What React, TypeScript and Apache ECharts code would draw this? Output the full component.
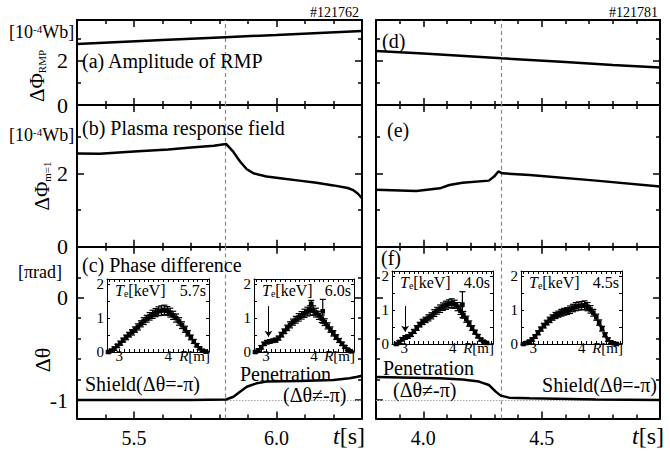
import React, { useEffect, useRef } from 'react';
import * as echarts from 'echarts';

const FONT = 'Liberation Serif';

// ---- axes ----
const LEFT_T = [5.3, 6.3];
const RIGHT_T = [3.8, 5.0];
const LEFT_T_MAJOR = [5.5, 6.0];
const LEFT_T_MINOR = [5.4, 5.6, 5.7, 5.8, 5.9, 6.1, 6.2];
const RIGHT_T_MAJOR = [4.0, 4.5];
const RIGHT_T_MINOR = [3.9, 4.1, 4.2, 4.3, 4.4, 4.6, 4.7, 4.8, 4.9];
const FLUX_RANGE = [0, 3.86];
const FLUX_LABELS = [0, 2];
const FLUX_MAJOR = [2];
const FLUX_MINOR = [1, 3];
const PHASE_RANGE = [-1.18, 0.5];
const PHASE_LABELS = [0, -1];
const PHASE_MAJOR = [0, -1];
const PHASE_MINOR = [0.2, -0.2, -0.4, -0.6, -0.8];
const LEFT_ONSET = 5.823;
const RIGHT_ONSET = 4.331;
const SHIELD_LEVEL = -1;

const INSET_R = [2.75, 4.83];
const INSET_TE = [0, 2.15];
const INSET_R_TICKS = [2.8, 2.9, 3.0, 3.1, 3.2, 3.3, 3.4, 3.5, 3.6, 3.7, 3.8, 3.9, 4.0, 4.1, 4.2, 4.3, 4.4, 4.5, 4.6, 4.7, 4.8];
const INSET_R_LABELS = [3, 4];
const INSET_TE_TICKS = [0.5, 1, 1.5, 2];
const INSET_TE_LABELS = [0, 1, 2];

// ---- time traces [t, value] ----
const rmpLeft = [[5.30, 2.77], [5.45, 2.86], [5.60, 2.95], [5.82, 3.08], [6.00, 3.18], [6.15, 3.27], [6.30, 3.36]];
const rmpRight = [[3.80, 2.45], [4.00, 2.34], [4.33, 2.12], [4.60, 1.95], [4.80, 1.82], [5.00, 1.70]];
const respLeft = [[5.30, 2.54], [5.38, 2.53], [5.50, 2.59], [5.62, 2.65], [5.70, 2.70], [5.78, 2.75], [5.823, 2.80], [5.848, 2.59], [5.872, 2.32], [5.896, 2.11], [5.919, 2.00], [5.965, 1.91], [6.02, 1.86], [6.08, 1.80], [6.14, 1.74], [6.20, 1.67], [6.25, 1.60], [6.267, 1.55], [6.285, 1.45], [6.30, 1.32]];
const respRight = [[3.80, 1.55], [3.97, 1.52], [4.07, 1.59], [4.11, 1.68], [4.165, 1.74], [4.277, 1.80], [4.299, 1.91], [4.317, 2.05], [4.334, 2.00], [4.45, 1.95], [4.73, 1.80], [5.00, 1.64]];
const phaseLeft = [[5.30, -1.00], [5.50, -1.00], [5.70, -1.00], [5.823, -0.995], [5.849, -0.968], [5.872, -0.919], [5.896, -0.87], [5.93, -0.837], [5.965, -0.82], [6.08, -0.814], [6.20, -0.804], [6.256, -0.788], [6.28, -0.775], [6.30, -0.762]];
const phaseRight = [[3.80, -0.776], [4.07, -0.786], [4.165, -0.80], [4.235, -0.82], [4.277, -0.853], [4.306, -0.918], [4.327, -0.957], [4.362, -0.977], [4.45, -0.984], [4.73, -0.994], [5.00, -1.00]];

// ---- Te profiles [R, Te, err] ----
const te57 = [[2.78, 0.00, 0.03], [2.84, 0.04, 0.04], [2.90, 0.10, 0.05], [2.96, 0.18, 0.05], [3.02, 0.26, 0.06], [3.08, 0.35, 0.06], [3.14, 0.43, 0.07], [3.20, 0.51, 0.07], [3.26, 0.58, 0.08], [3.32, 0.66, 0.08], [3.38, 0.74, 0.09], [3.44, 0.83, 0.09], [3.50, 0.91, 0.10], [3.56, 0.98, 0.10], [3.62, 1.05, 0.11], [3.68, 1.11, 0.12], [3.74, 1.16, 0.12], [3.80, 1.20, 0.13], [3.86, 1.22, 0.14], [3.92, 1.24, 0.14], [3.98, 1.21, 0.13], [4.04, 1.16, 0.13], [4.10, 1.08, 0.12], [4.16, 1.00, 0.12], [4.22, 0.90, 0.11], [4.28, 0.79, 0.10], [4.34, 0.67, 0.09], [4.40, 0.55, 0.08], [4.46, 0.43, 0.07], [4.52, 0.31, 0.06], [4.58, 0.20, 0.05], [4.64, 0.11, 0.04], [4.70, 0.04, 0.03], [4.76, 0.01, 0.02]];
const te60 = [[2.78, 0.00, 0.03], [2.84, 0.05, 0.04], [2.90, 0.14, 0.05], [2.96, 0.24, 0.05], [3.02, 0.29, 0.05], [3.08, 0.31, 0.05], [3.14, 0.33, 0.05], [3.20, 0.35, 0.06], [3.26, 0.41, 0.06], [3.32, 0.51, 0.07], [3.38, 0.61, 0.07], [3.44, 0.71, 0.08], [3.50, 0.80, 0.09], [3.56, 0.88, 0.09], [3.62, 0.95, 0.10], [3.68, 1.02, 0.11], [3.74, 1.08, 0.11], [3.80, 1.14, 0.12], [3.86, 1.19, 0.13], [3.92, 1.23, 0.14], [3.98, 1.22, 0.14], [4.04, 1.16, 0.13], [4.10, 1.08, 0.12], [4.16, 0.98, 0.11], [4.22, 0.88, 0.10], [4.28, 0.77, 0.09], [4.34, 0.66, 0.08], [4.40, 0.55, 0.08], [4.46, 0.44, 0.07], [4.52, 0.34, 0.06], [4.58, 0.24, 0.05], [4.64, 0.15, 0.04], [4.70, 0.07, 0.03], [4.76, 0.02, 0.02], [3.94, 1.42, 0.10], [4.18, 1.20, 0.35]];
const te40 = [[2.84, 0.00, 0.03], [2.90, 0.06, 0.04], [2.96, 0.14, 0.05], [3.02, 0.19, 0.05], [3.08, 0.22, 0.05], [3.14, 0.28, 0.06], [3.20, 0.37, 0.06], [3.26, 0.47, 0.07], [3.32, 0.57, 0.07], [3.38, 0.65, 0.08], [3.44, 0.71, 0.08], [3.50, 0.77, 0.09], [3.56, 0.83, 0.09], [3.62, 0.91, 0.10], [3.68, 0.98, 0.10], [3.74, 1.04, 0.11], [3.80, 1.10, 0.11], [3.86, 1.14, 0.12], [3.92, 1.18, 0.12], [3.98, 1.20, 0.13], [4.04, 1.17, 0.12], [4.10, 1.10, 0.12], [4.16, 0.98, 0.11], [4.22, 0.86, 0.10], [4.28, 0.73, 0.09], [4.34, 0.60, 0.08], [4.40, 0.47, 0.07], [4.46, 0.35, 0.06], [4.52, 0.23, 0.05], [4.58, 0.13, 0.04], [4.64, 0.07, 0.03], [4.70, 0.03, 0.02], [4.20, 1.16, 0.38]];
const te45 = [[2.80, 0.00, 0.03], [2.86, 0.03, 0.04], [2.92, 0.07, 0.04], [2.98, 0.13, 0.05], [3.04, 0.22, 0.05], [3.10, 0.33, 0.06], [3.16, 0.44, 0.06], [3.22, 0.54, 0.07], [3.28, 0.63, 0.07], [3.34, 0.71, 0.08], [3.40, 0.78, 0.08], [3.46, 0.84, 0.09], [3.52, 0.88, 0.09], [3.58, 0.92, 0.10], [3.64, 0.95, 0.10], [3.70, 0.97, 0.10], [3.76, 1.01, 0.11], [3.82, 1.06, 0.11], [3.88, 1.10, 0.12], [3.94, 1.12, 0.12], [4.00, 1.13, 0.12], [4.06, 1.14, 0.13], [4.12, 1.10, 0.12], [4.18, 1.02, 0.11], [4.24, 0.92, 0.10], [4.30, 0.79, 0.09], [4.36, 0.63, 0.08], [4.42, 0.45, 0.07], [4.48, 0.27, 0.06], [4.54, 0.13, 0.05], [4.60, 0.05, 0.04], [4.66, 0.02, 0.03], [4.72, 0.00, 0.02]];

// arrows [R, Te from, Te to]
const ARROW_60 = [3.05, 1.35, 0.45];
const ARROW_40 = [3.02, 1.12, 0.36];

function mkAxis(o: any) {
  return {
    type: 'value',
    gridIndex: o.grid,
    position: o.pos,
    min: o.range[0],
    max: o.range[1],
    axisLine: { show: !!o.line, onZero: false, lineStyle: { color: '#000', width: o.lineW || 2 } },
    axisTick: { show: true, inside: true, length: o.len, customValues: o.ticks, lineStyle: { color: '#000', width: o.tickW || 1.5 } },
    axisLabel: { show: false },
    splitLine: { show: false },
    minorTick: { show: false },
    minorSplitLine: { show: false },
  };
}

const T = (x: number, y: number, text: string, size: number, o: any = {}) => ({
  type: 'text',
  x,
  y,
  rotation: o.rot || 0,
  z: 20,
  style: {
    text,
    fill: '#000',
    fontFamily: FONT,
    fontSize: size,
    align: o.align || 'left',
    verticalAlign: 'middle',
    rich: o.rich,
  },
});
const rich = (size: number, small: number) => ({
  i: { fontFamily: FONT, fontSize: size, fontStyle: 'italic' },
  sub: { fontFamily: FONT, fontSize: small, verticalAlign: 'bottom' },
  sup: { fontFamily: FONT, fontSize: small, verticalAlign: 'top' },
  n: { fontFamily: FONT, fontSize: size },
});

function buildOption() {
  const grid: any[] = [];
  const xAxis: any[] = [];
  const yAxis: any[] = [];
  const series: any[] = [];
  const labelSpecs: any[] = [];

  function frame(rect: number[], c: any) {
    const gi = grid.length;
    grid.push({ left: rect[0], top: rect[1], width: rect[2], height: rect[3], show: !!c.bg, backgroundColor: '#fff', borderWidth: 0, containLabel: false, outerBoundsMode: 'none' });
    const xi = xAxis.length;
    xAxis.push(mkAxis({ grid: gi, pos: 'bottom', range: c.xr, ticks: c.xMajor, len: c.majLen, line: true, lineW: c.lineW, tickW: c.tickW }));
    if (c.xMinor.length) xAxis.push(mkAxis({ grid: gi, pos: 'bottom', range: c.xr, ticks: c.xMinor, len: c.minLen, tickW: c.tickW }));
    xAxis.push(mkAxis({ grid: gi, pos: 'top', range: c.xr, ticks: c.xMajor, len: c.majLen, line: true, lineW: c.lineW, tickW: c.tickW }));
    if (c.xMinor.length) xAxis.push(mkAxis({ grid: gi, pos: 'top', range: c.xr, ticks: c.xMinor, len: c.minLen, tickW: c.tickW }));
    const yi = yAxis.length;
    yAxis.push(mkAxis({ grid: gi, pos: 'left', range: c.yr, ticks: c.yMajor, len: c.majLen, line: true, lineW: c.lineW, tickW: c.tickW }));
    if (c.yMinor.length) yAxis.push(mkAxis({ grid: gi, pos: 'left', range: c.yr, ticks: c.yMinor, len: c.minLen, tickW: c.tickW }));
    yAxis.push(mkAxis({ grid: gi, pos: 'right', range: c.yr, ticks: c.yMajor, len: c.majLen, line: true, lineW: c.lineW, tickW: c.tickW }));
    if (c.yMinor.length) yAxis.push(mkAxis({ grid: gi, pos: 'right', range: c.yr, ticks: c.yMinor, len: c.minLen, tickW: c.tickW }));
    if (c.xLabels) labelSpecs.push({ kind: 'x', xi, yi, values: c.xLabels, fmt: c.xFmt, size: c.xSize, margin: c.xMargin, xr: c.xr, yr: c.yr });
    if (c.yLabels) labelSpecs.push({ kind: 'y', xi, yi, values: c.yLabels, fmt: c.yFmt, size: c.ySize, margin: c.yMargin, xr: c.xr, yr: c.yr });
    return { xi, yi };
  }

  const intFmt = (v: number) => (v < 0 ? '-' + Math.abs(v) : String(v));
  const tFmt = (v: number) => v.toFixed(1);

  const mainCfg = (left: boolean, row: number) => ({
    xr: left ? LEFT_T : RIGHT_T,
    xMajor: left ? LEFT_T_MAJOR : RIGHT_T_MAJOR,
    xMinor: left ? LEFT_T_MINOR : RIGHT_T_MINOR,
    xLabels: row === 2 ? (left ? LEFT_T_MAJOR : RIGHT_T_MAJOR) : null,
    xFmt: tFmt, xSize: 20, xMargin: 20,
    yr: row === 2 ? PHASE_RANGE : FLUX_RANGE,
    yMajor: row === 2 ? PHASE_MAJOR : FLUX_MAJOR,
    yMinor: row === 2 ? PHASE_MINOR : FLUX_MINOR,
    yLabels: left ? (row === 2 ? PHASE_LABELS : FLUX_LABELS) : null,
    yFmt: intFmt, ySize: 22, yMargin: 9,
    majLen: 7, minLen: 4, lineW: 2, tickW: 1.5,
  });

  const rows = [
    { top: 20, h: 85 },
    { top: 105, h: 141.7 },
    { top: 246.7, h: 171.7 },
  ];
  const traces = [
    [rmpLeft, rmpRight],
    [respLeft, respRight],
    [phaseLeft, phaseRight],
  ];

  rows.forEach((r, ri) => {
    [true, false].forEach((left, ci) => {
      const rect = left ? [77, r.top, 285, r.h] : [376, r.top, 284, r.h];
      const { xi, yi } = frame(rect, mainCfg(left, ri));
      const mlData: any[] = [
        { xAxis: left ? LEFT_ONSET : RIGHT_ONSET, lineStyle: { color: '#8a8a8a', type: [4, 3], width: 1.2 } },
      ];
      if (ri === 2) mlData.unshift({ yAxis: SHIELD_LEVEL, lineStyle: { color: '#a8a8a8', type: [1.5, 1.5], width: 1 } });
      series.push({
        type: 'line',
        xAxisIndex: xi,
        yAxisIndex: yi,
        data: traces[ri][ci],
        showSymbol: false,
        symbol: 'none',
        z: 3,
        lineStyle: { color: '#000', width: 2.5 },
        markLine: { silent: true, symbol: ['none', 'none'], label: { show: false }, data: mlData, z: 2 },
      });
    });
  });

  const insetCfg = {
    xr: INSET_R, xMajor: INSET_R_TICKS, xMinor: [], xLabels: INSET_R_LABELS, xFmt: (v: number) => String(v), xSize: 15, xMargin: 4,
    yr: INSET_TE, yMajor: INSET_TE_TICKS, yMinor: [], yLabels: INSET_TE_LABELS, yFmt: (v: number) => String(v), ySize: 15, yMargin: 3,
    majLen: 3, minLen: 2, lineW: 1, tickW: 1, bg: true,
  };
  const insetRects = [
    [107, 279, 102, 73],
    [254, 279, 100, 73],
    [392, 271, 101, 73],
    [521, 271, 101, 73],
  ];
  const profiles = [te57, te60, te40, te45];
  const arrows: any[] = [null, ARROW_60, ARROW_40, null];

  const renderItem = (params: any, api: any) => {
    const x = api.value(0);
    const y = api.value(1);
    const e = api.value(2);
    const p = api.coord([x, y]);
    const lo = api.coord([x, y - e]);
    const hi = api.coord([x, y + e]);
    const st = { stroke: '#000', lineWidth: 1.2 };
    return {
      type: 'group',
      children: [
        { type: 'line', shape: { x1: p[0], y1: lo[1], x2: p[0], y2: hi[1] }, style: st },
        { type: 'line', shape: { x1: p[0] - 3, y1: lo[1], x2: p[0] + 3, y2: lo[1] }, style: st },
        { type: 'line', shape: { x1: p[0] - 3, y1: hi[1], x2: p[0] + 3, y2: hi[1] }, style: st },
        { type: 'rect', shape: { x: p[0] - 2.3, y: p[1] - 2.3, width: 4.6, height: 4.6 }, style: { fill: '#000' } },
      ],
    };
  };

  insetRects.forEach((rect, i) => {
    const { xi, yi } = frame(rect, insetCfg);
    const s: any = {
      type: 'custom',
      xAxisIndex: xi,
      yAxisIndex: yi,
      dimensions: ['R', 'Te', 'err'],
      encode: { x: 0, y: 1 },
      data: profiles[i],
      renderItem,
      z: 5,
    };
    const a = arrows[i];
    if (a) {
      s.markLine = {
        silent: true,
        symbol: ['none', 'arrow'],
        symbolSize: 6,
        label: { show: false },
        lineStyle: { color: '#000', width: 1, type: 'solid' },
        data: [[{ coord: [a[0], a[1]] }, { coord: [a[0], a[2]] }]],
      };
    }
    series.push(s);
  });

  const graphic: any[] = [
    T(359, 12, '#121762', 14, { align: 'right' }),
    T(658, 12, '#121781', 14, { align: 'right' }),
    T(9, 32, '{n|[10}{sup|-4}{n|Wb]}', 18, { rich: rich(18, 11) }),
    T(9, 135, '{n|[10}{sup|-4}{n|Wb]}', 18, { rich: rich(18, 11) }),
    T(37, 76, '{n|ΔΦ}{sub|RMP}', 21, { align: 'center', rot: Math.PI / 2, rich: rich(21, 11) }),
    T(42, 186, '{n|ΔΦ}{sub|m=1}', 21, { align: 'center', rot: Math.PI / 2, rich: rich(21, 11) }),
    T(18, 272, '[πrad]', 18),
    T(42, 360, 'Δθ', 22, { align: 'center', rot: Math.PI / 2 }),
    T(82, 61, '(a) Amplitude of RMP', 20),
    T(82, 128, '(b) Plasma response field', 20),
    T(82, 265, '(c) Phase difference', 20),
    T(382, 41, '(d)', 20),
    T(387, 130, '(e)', 20),
    T(381, 258, '(f)', 20),
    T(365, 436, '{i|t}{n|[s]}', 24, { align: 'right', rich: rich(24, 12) }),
    T(664, 436, '{i|t}{n|[s]}', 24, { align: 'right', rich: rich(24, 12) }),
    T(85, 384, 'Shield(Δθ=-π)', 20),
    T(240, 374, 'Penetration', 20),
    T(283, 395, '(Δθ≠-π)', 20),
    T(383, 368, 'Penetration', 20),
    T(393, 390, '(Δθ≠-π)', 20),
    T(657, 385, 'Shield(Δθ=-π)', 20, { align: 'right' }),
  ];
  const times = ['5.7s', '6.0s', '4.0s', '4.5s'];
  insetRects.forEach((r, i) => {
    graphic.push(T(r[0] + 8, r[1] + 11, '{i|T}{sub|e}{n|[keV]}', 16, { rich: rich(16, 10) }));
    graphic.push(T(r[0] + r[2] - 3, r[1] + 11, times[i], 16, { align: 'right' }));
    graphic.push(T(r[0] + r[2] + 1, r[1] + r[3] + 4, '{i|R}{n|[m]}', 15, { align: 'right', rich: rich(15, 10) }));
  });

  return {
    option: {
      animation: false,
      backgroundColor: '#fff',
      textStyle: { fontFamily: FONT, color: '#000' },
      grid,
      xAxis,
      yAxis,
      series,
    },
    graphic,
    labelSpecs,
  };
}

export default function App() {
  const ref = useRef<HTMLDivElement>(null);
  useEffect(() => {
    if (!ref.current) return;
    const chart = echarts.init(ref.current, null, { renderer: 'svg', width: 670, height: 452 });
    const { option, graphic, labelSpecs } = buildOption();
    chart.setOption(option as any);
    const tickTexts: any[] = [];
    labelSpecs.forEach((s: any) => {
      s.values.forEach((v: number) => {
        if (s.kind === 'x') {
          const px = chart.convertToPixel({ xAxisIndex: s.xi } as any, v) as any;
          const py = chart.convertToPixel({ yAxisIndex: s.yi } as any, s.yr[0]) as any;
          tickTexts.push(T(px, py + s.margin, s.fmt(v), s.size, { align: 'center' }));
        } else {
          const px = chart.convertToPixel({ xAxisIndex: s.xi } as any, s.xr[0]) as any;
          const py = chart.convertToPixel({ yAxisIndex: s.yi } as any, v) as any;
          tickTexts.push(T(px - s.margin, py, s.fmt(v), s.size, { align: 'right' }));
        }
      });
    });
    chart.setOption({ graphic: [...graphic, ...tickTexts] } as any);
    return () => chart.dispose();
  }, []);
  return (
    <div
      ref={ref}
      style={{ position: 'fixed', left: 0, top: 0, width: 670, height: 452, background: '#fff' }}
    />
  );
}
